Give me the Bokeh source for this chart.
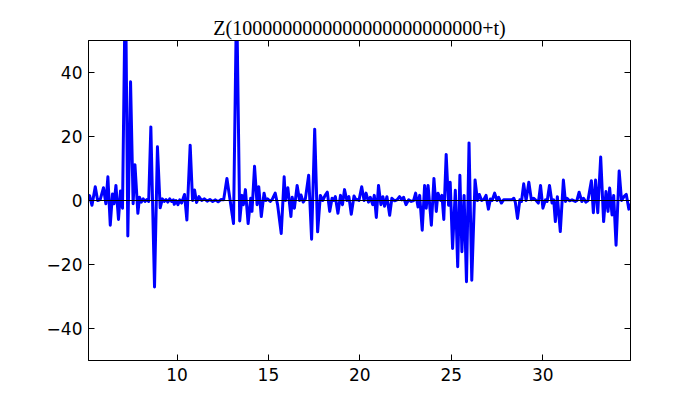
from bokeh.plotting import figure
from bokeh.models import Range1d, FixedTicker, LinearAxis, CustomJSTickFormatter, Span
from bokeh.embed import file_html
from bokeh.resources import INLINE

title_text = "Z(1000000000000000000000000+t)"

t_vals = [5.16, 5.22, 5.35, 5.53, 5.66, 5.80, 5.98, 6.11, 6.22, 6.35, 6.47, 6.56, 6.66, 6.80, 6.91, 7.02,
          7.18, 7.31, 7.46, 7.60, 7.70, 7.86, 7.95, 8.05, 8.15, 8.25, 8.35, 8.45, 8.57, 8.77, 8.93, 9.08,
          9.2, 9.3, 9.4, 9.5, 9.6, 9.7, 9.8, 9.85, 9.95, 10.05, 10.15, 10.25, 10.41, 10.54, 10.72, 10.85,
          10.96, 11.07, 11.2, 11.35, 11.5, 11.65, 11.8, 11.95, 12.1, 12.25, 12.4, 12.55, 12.73, 12.88,
          13.09, 13.26, 13.43, 13.56, 13.63, 13.74, 13.89, 14.03, 14.10, 14.24, 14.38, 14.47, 14.61, 14.76,
          14.85, 14.95, 15.1, 15.20, 15.37, 15.50, 15.70, 15.86, 15.93, 16.06, 16.23, 16.30, 16.42, 16.57,
          16.70, 16.78, 16.90, 17.02, 17.20, 17.36, 17.53, 17.69, 17.84, 17.97, 18.10, 18.22, 18.35, 18.48,
          18.57, 18.66, 18.80, 18.94, 19.05, 19.16, 19.29, 19.40, 19.53, 19.68, 19.79, 19.85, 19.95, 20.10,
          20.23, 20.34, 20.47, 20.57, 20.70, 20.79, 20.90, 21.02, 21.15, 21.26, 21.35, 21.48, 21.63, 21.75,
          21.90, 22.03, 22.17, 22.30, 22.39, 22.52, 22.67, 22.81, 22.94, 23.05, 23.18, 23.27, 23.41, 23.54,
          23.63, 23.73, 23.91, 24.05, 24.18, 24.27, 24.42, 24.49, 24.59, 24.72, 24.85, 24.94, 25.07, 25.22,
          25.35, 25.47, 25.58, 25.70, 25.83, 25.97, 26.12, 26.30, 26.43, 26.53, 26.66, 26.79, 26.90, 27.03,
          27.14, 27.23, 27.37, 27.50, 27.59, 27.74, 27.86, 28.13, 28.31, 28.42, 28.50, 28.62, 28.75, 28.84,
          28.96, 29.09, 29.24, 29.38, 29.51, 29.64, 29.76, 29.88, 30.01, 30.15, 30.24, 30.37, 30.51, 30.60,
          30.69, 30.80, 30.96, 31.13, 31.24, 31.33, 31.46, 31.60, 31.78, 31.87, 31.99, 32.14, 32.23, 32.36,
          32.47, 32.66, 32.77, 32.89, 33.01, 33.17, 33.33, 33.46, 33.57, 33.66, 33.79, 33.88, 34.01, 34.18,
          34.31, 34.44, 34.57, 34.71, 34.80]

z_vals = [1.0, 1.5, -1.5, 4.3, 0.0, 0.3, 4.0, -1.0, 7.4, -7.7, 2.0, -1.0, 4.7, -5.9, 3.0, -2.4,
          72.0, -11.1, 37.1, -1.0, 11.2, -4.0, 1.0, -0.5, 0.5, -0.3, 0.3, -0.3, 23.0, -27.0, 16.8, -2.3,
          0.5, -0.3, 0.3, -0.5, 0.5, -0.3, 0.2, -1.2, 0.0, -1.3, 0.2, -0.8, 1.9, -6.1, 17.3, 0.0,
          3.3, -0.6, 1.2, 0.0, 0.5, -0.2, 0.3, -0.3, 0.2, -0.4, 0.3, 0.2, 6.9, 1.0,
          -7.2, 65.0, -6.4, 1.6, -1.3, 3.4, -7.2, 0.7, -3.4, 10.7, -1.3, 4.3, -5.0, 2.3,
          0.0, 0.5, -0.3, 0.3, 2.3, -1.3, -10.3, 7.4, 0.0, 4.0, -5.0, 1.0, -2.4, 4.7,
          0.0, 1.7, -0.5, 0.5, 7.9, -12.1, 22.3, -9.8, 1.6, 0.0, 1.6, 2.6, -3.4, 0.7,
          0.0, 1.2, -4.0, 1.6, -1.3, 3.4, 0.0, 1.2, -4.3, 1.4, 0.2, 0.3, 0.0, 4.3,
          0.0, 2.3, -0.5, 1.0, -1.3, 1.6, -5.3, 4.7, -1.3, 1.2, -1.8, 1.2, -4.6, 0.7,
          -0.1, 0.2, 1.2, 0.2, 1.0, -1.3, 0.2, -0.3, 0.0, 2.3, -2.0, 1.6, -9.3, 4.7,
          -2.4, 4.7, -7.7, 6.9, -3.4, 2.3, 0.0, 1.6, -5.9, 14.4, -1.5, 5.7, -15.0, 3.2,
          -20.7, 7.9, -16.0, 1.6, -25.4, 18.0, -24.9, 6.4, 0.0, 1.9, 0.0, 0.4, 1.6, -2.7,
          0.5, 0.0, 2.3, 0.0, 1.0, -0.8, 0.2, 0.2, 0.2, 0.7, -0.5, -5.6, 0.2, -0.3,
          5.2, 0.0, 5.7, 0.2, 0.7, 0.0, -0.8, 4.7, -2.4, 0.2, -0.3, 4.7, -0.8, 0.2,
          -6.6, 1.2, -9.7, 6.4, -0.3, 0.7, -0.1, 0.2, -0.3, 0.0, 2.6, -0.3, 0.7, -0.5,
          -0.1, 6.2, -3.8, 6.4, -3.8, 13.6, -6.6, 2.8, -3.4, 3.9, -4.5, 1.6, -14.0, 9.2,
          0.0, 1.2, 1.9, -2.7, -1.0]

x_ticks = [10, 15, 20, 25, 30]
y_ticks = [-40, -20, 0, 20, 40]
y_tick_labels = {-40: "\u221240", -20: "\u221220", 0: "0", 20: "20", 40: "40"}

p = figure(width=692, height=392, output_backend="svg", toolbar_location=None,
           x_range=Range1d(5.16, 34.80), y_range=Range1d(-50, 50),
           min_border_left=88, min_border_right=62, min_border_top=40, min_border_bottom=32)

p.title.text = title_text
p.title.text_font = "Liberation Serif"
p.title.text_font_size = "20px"
p.title.text_font_style = "normal"
p.title.align = "center"
p.title.text_color = "black"
p.title.standoff = 4

p.grid.visible = False
p.outline_line_color = "black"
p.outline_line_width = 1
p.outline_line_alpha = 1

p.add_layout(Span(location=0, dimension="width", line_color="black", line_width=1, level="glyph"))
p.line(t_vals, z_vals, line_color="#0000ff", line_width=3, line_join="round")

for ax in [p.xaxis[0], p.yaxis[0]]:
    ax.axis_line_color = "black"
    ax.major_tick_line_color = "black"
    ax.major_tick_in = 6
    ax.major_tick_out = 0
    ax.minor_tick_line_color = None
    ax.major_label_text_font = "DejaVu Sans"
    ax.major_label_text_font_size = "17px"
    ax.major_label_text_color = "black"

p.xaxis[0].ticker = FixedTicker(ticks=x_ticks)
p.xaxis[0].major_label_standoff = 7
p.yaxis[0].ticker = FixedTicker(ticks=y_ticks)
p.yaxis[0].major_label_overrides = y_tick_labels
p.yaxis[0].major_label_standoff = 6

blank = CustomJSTickFormatter(code="return ''")
top = LinearAxis(ticker=FixedTicker(ticks=x_ticks), formatter=blank,
                 major_tick_in=6, major_tick_out=0, minor_tick_line_color=None,
                 axis_line_color="black", major_label_standoff=0,
                 major_label_text_font_size="1px")
right = LinearAxis(ticker=FixedTicker(ticks=y_ticks), formatter=blank,
                   major_tick_in=6, major_tick_out=0, minor_tick_line_color=None,
                   axis_line_color="black", major_label_standoff=0,
                   major_label_text_font_size="1px")
p.add_layout(top, "above")
p.add_layout(right, "right")

open("out.html", "w").write(file_html(p, INLINE))
